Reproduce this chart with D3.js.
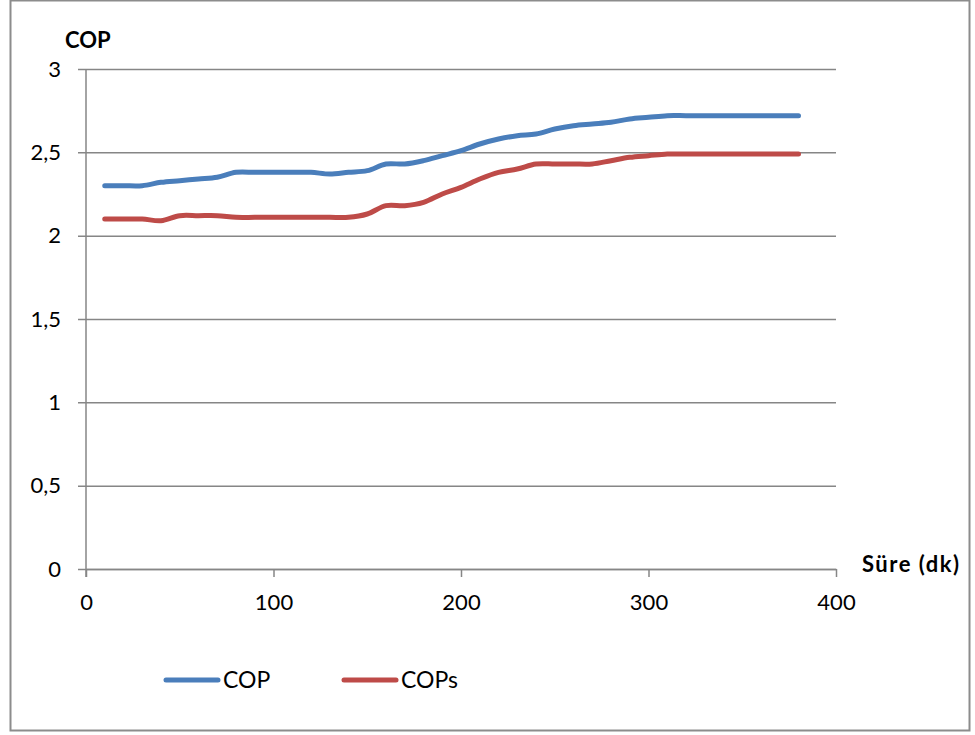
<!DOCTYPE html>
<html>
<head>
<meta charset="utf-8">
<script src="https://cdn.jsdelivr.net/npm/d3@7"></script>
<style>
  html, body { margin: 0; padding: 0; background: #ffffff; }
  svg { display: block; font-family: Lato, "Open Sans", sans-serif; }
</style>
</head>
<body>
<svg id="chart" width="975" height="735"></svg>
<script>
// Time in minutes
const minutes = [10, 20, 30, 40, 50, 60, 70, 80, 90, 100, 110, 120, 130, 140, 150, 160, 170, 180, 190,
  200, 210, 220, 230, 240, 250, 260, 270, 280, 290, 300, 310, 320, 330, 340, 350, 360, 370, 380];

// Coefficient of performance
const cop = [2.30, 2.30, 2.30, 2.32, 2.33, 2.34, 2.35, 2.38, 2.38, 2.38, 2.38, 2.38, 2.37, 2.38, 2.39,
  2.43, 2.43, 2.45, 2.48, 2.51, 2.55, 2.58, 2.60, 2.61, 2.64, 2.66, 2.67, 2.68, 2.70, 2.71, 2.72,
  2.72, 2.72, 2.72, 2.72, 2.72, 2.72, 2.72];

// System coefficient of performance
const cops = [2.10, 2.10, 2.10, 2.09, 2.12, 2.12, 2.12, 2.11, 2.11, 2.11, 2.11, 2.11, 2.11, 2.11, 2.13,
  2.18, 2.18, 2.20, 2.25, 2.29, 2.34, 2.38, 2.40, 2.43, 2.43, 2.43, 2.43, 2.45, 2.47, 2.48, 2.49,
  2.49, 2.49, 2.49, 2.49, 2.49, 2.49, 2.49];

const seriesNames = ["COP", "COPs"];
const seriesColors = ["#4a7ebb", "#be4b48"];
const yTicks = [0, 0.5, 1, 1.5, 2, 2.5, 3];
const xTicks = [0, 100, 200, 300, 400];
const yTitle = "COP";
const xTitle = "Süre (dk)";

const svg = d3.select("#chart");
const gridColor = "#868686";

// Outer chart frame
svg.append("rect")
  .attr("x", 10.5).attr("y", 0.5)
  .attr("width", 959).attr("height", 730)
  .attr("fill", "#fff")
  .attr("stroke", "#8c8c8c")
  .attr("stroke-width", 2);

const plot = { left: 86, right: 836, top: 69, bottom: 569 };

const x = d3.scaleLinear().domain([0, 400]).range([plot.left, plot.right]);
const y = d3.scaleLinear().domain([0, 3]).range([plot.bottom, plot.top]);

const fmt = d => d3.format("")(d).replace(".", ",");

// Horizontal gridlines with y-axis labels
const yAxis = d3.axisLeft(y)
  .tickValues(yTicks)
  .tickSize(-(plot.right - plot.left))
  .tickSizeOuter(0)
  .tickFormat(fmt)
  .tickPadding(25);

const gy = svg.append("g")
  .attr("transform", `translate(${plot.left},0)`)
  .call(yAxis);
gy.select(".domain").remove();
gy.selectAll(".tick line")
  .attr("x1", -8)
  .attr("stroke", gridColor)
  .attr("stroke-width", 1.5);
gy.selectAll(".tick text")
  .attr("font-size", 22)
  .attr("fill", "#000")
  .attr("font-family", "Lato, 'Open Sans', sans-serif");

// Vertical axis line
svg.append("line")
  .attr("x1", plot.left).attr("x2", plot.left)
  .attr("y1", plot.top).attr("y2", plot.bottom + 8)
  .attr("stroke", gridColor)
  .attr("stroke-width", 1.5);

// X axis
const xAxis = d3.axisBottom(x)
  .tickValues(xTicks)
  .tickSize(8)
  .tickSizeOuter(0)
  .tickPadding(17);

const gx = svg.append("g")
  .attr("transform", `translate(0,${plot.bottom})`)
  .call(xAxis);
gx.select(".domain")
  .attr("stroke", gridColor)
  .attr("stroke-width", 1.5);
gx.selectAll(".tick line")
  .attr("stroke", gridColor)
  .attr("stroke-width", 1.5);
gx.selectAll(".tick text")
  .attr("font-size", 22)
  .attr("fill", "#000")
  .attr("font-family", "Lato, 'Open Sans', sans-serif");

// Axis titles
svg.append("text")
  .attr("x", 65).attr("y", 48)
  .attr("font-size", 22)
  .attr("font-weight", "bold")
  .text(yTitle);

svg.append("text")
  .attr("x", 862).attr("y", 572)
  .attr("font-size", 22)
  .attr("font-weight", "bold")
  .attr("textLength", 97)
  .attr("lengthAdjust", "spacing")
  .text(xTitle);

// Smoothed series lines
const line = d3.line()
  .x((d, i) => x(minutes[i]))
  .y(d => y(d))
  .curve(d3.curveCatmullRom.alpha(0.5));

[cop, cops].forEach((vals, k) => {
  svg.append("path")
    .datum(vals)
    .attr("d", line)
    .attr("fill", "none")
    .attr("stroke", seriesColors[k])
    .attr("stroke-width", 5)
    .attr("stroke-linecap", "round")
    .attr("stroke-linejoin", "round");
});

// Legend
const legendX = [166, 344];
seriesNames.forEach((name, k) => {
  const g = svg.append("g").attr("transform", `translate(${legendX[k]},680)`);
  g.append("line")
    .attr("x1", 0).attr("x2", 52)
    .attr("y1", 0).attr("y2", 0)
    .attr("stroke", seriesColors[k])
    .attr("stroke-width", 5)
    .attr("stroke-linecap", "round");
  g.append("text")
    .attr("x", 57).attr("y", 8)
    .attr("font-size", 23)
    .text(name);
});
</script>
</body>
</html>
